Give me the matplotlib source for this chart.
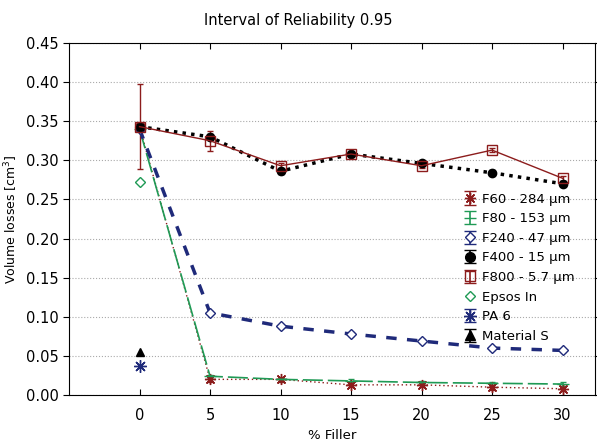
import numpy as np
import matplotlib
matplotlib.use("Agg")
import matplotlib.pyplot as plt

plt.rcParams['font.family'] = ['DejaVu Sans']

# Data
filler = [0, 5, 10, 15, 20, 25, 30]
f60 = [0.343, 0.020, 0.020, 0.013, 0.013, 0.010, 0.008]
f80 = [0.340, 0.024, 0.020, 0.018, 0.016, 0.015, 0.014]
f240 = [0.340, 0.105, 0.088, 0.078, 0.069, 0.060, 0.057]
f400 = [0.343, 0.330, 0.286, 0.308, 0.296, 0.284, 0.270]
f800 = [0.343, 0.325, 0.293, 0.308, 0.293, 0.313, 0.277]
f800_err = [0.054, 0.013, 0.003, 0.003, 0.003, 0.003, 0.003]
epsos = 0.272
pa6 = 0.037
material_s = 0.055

dark_red = '#8c1c1c'
green = '#1f9a55'
navy = '#1f2a7a'

fig = plt.figure(figsize=(5.97, 4.47), dpi=100)
ax = fig.add_axes([0.1156, 0.1163, 0.881, 0.7877])

ax.errorbar(filler, f60, yerr=0.003, color=dark_red, ls=(0, (1, 2)), lw=1,
            marker=(8, 2, 0), ms=8, mew=1, capsize=2)
ax.errorbar(filler, f80, yerr=0.002, color=green, ls=(0, (12, 3)), lw=1.2,
            marker='_', ms=8, capsize=2)
ax.errorbar(filler, f240, yerr=0.002, color=navy, ls=(0, (3, 3)), lw=2.5,
            marker='D', ms=5, mfc='white', mew=1, capsize=2)
ax.errorbar(filler, f400, yerr=0.003, color='black', ls=(0, (1, 1.5)), lw=2.5,
            marker='o', ms=6, capsize=2)
ax.errorbar(filler, f800, yerr=f800_err, color=dark_red, ls='-', lw=1,
            marker='s', ms=7, mfc='none', mew=1, capsize=2)
ax.plot([0], [epsos], ls='none', marker='D', ms=5, mfc='white', mec=green, mew=1)
ax.plot([0], [pa6], ls='none', marker=(8, 2, 0), ms=9, color=navy, mew=1)
ax.plot([0], [material_s], ls='none', marker='^', ms=6, color='black')

# legend proxies (marker with error bar, no line)
names = ['F60 - 284 µm', 'F80 - 153 µm', 'F240 - 47 µm', 'F400 - 15 µm',
         'F800 - 5.7 µm', 'Epsos In', 'PA 6', 'Material S']
styles = [
    dict(color=dark_red, marker=(8, 2, 0), ms=8),
    dict(color=green, marker='_', ms=8),
    dict(color=navy, marker='D', ms=5, mfc='white'),
    dict(color='black', marker='o', ms=7),
    dict(color=dark_red, marker='s', ms=7, mfc='none'),
    dict(color=green, marker='D', ms=5, mfc='white'),
    dict(color=navy, marker=(8, 2, 0), ms=9),
    dict(color='black', marker='^', ms=7),
]
handles = []
for name, st in zip(names, styles):
    if name == 'Epsos In':
        h, = ax.plot([np.nan], [np.nan], ls='none', mew=1, **st)
    else:
        h = ax.errorbar([np.nan], [np.nan], yerr=[1], ls='none', capsize=4,
                        elinewidth=1.2, **st)
    handles.append(h)
ax.legend(handles=handles, labels=names, loc='upper left',
          bbox_to_anchor=(0.74, 0.59), frameon=False, fontsize=9.5,
          handlelength=1.0, handletextpad=0.4, labelspacing=0.5,
          borderaxespad=0)

ax.set_xlim(-5, 32.3)
ax.set_ylim(0, 0.45)
ax.set_xticks(filler)
ax.set_yticks(np.arange(0, 0.451, 0.05))
ax.set_yticklabels(['%.2f' % v for v in np.arange(0, 0.451, 0.05)])
ax.yaxis.grid(True, ls=':', color='#aaaaaa', lw=0.8)
ax.tick_params(direction='in', top=True, right=True, labelsize=10.5, length=4)
ax.tick_params(axis='x', pad=9)
ax.tick_params(axis='y', direction='out')

ax.set_xlabel('% Filler', fontsize=9.5, labelpad=5)
ax.set_ylabel('Volume losses [cm$^3$]', fontsize=9)
fig.suptitle('Interval of Reliability 0.95', x=0.5, y=0.97, fontsize=10.5)

fig.savefig('out.png', dpi=100)
